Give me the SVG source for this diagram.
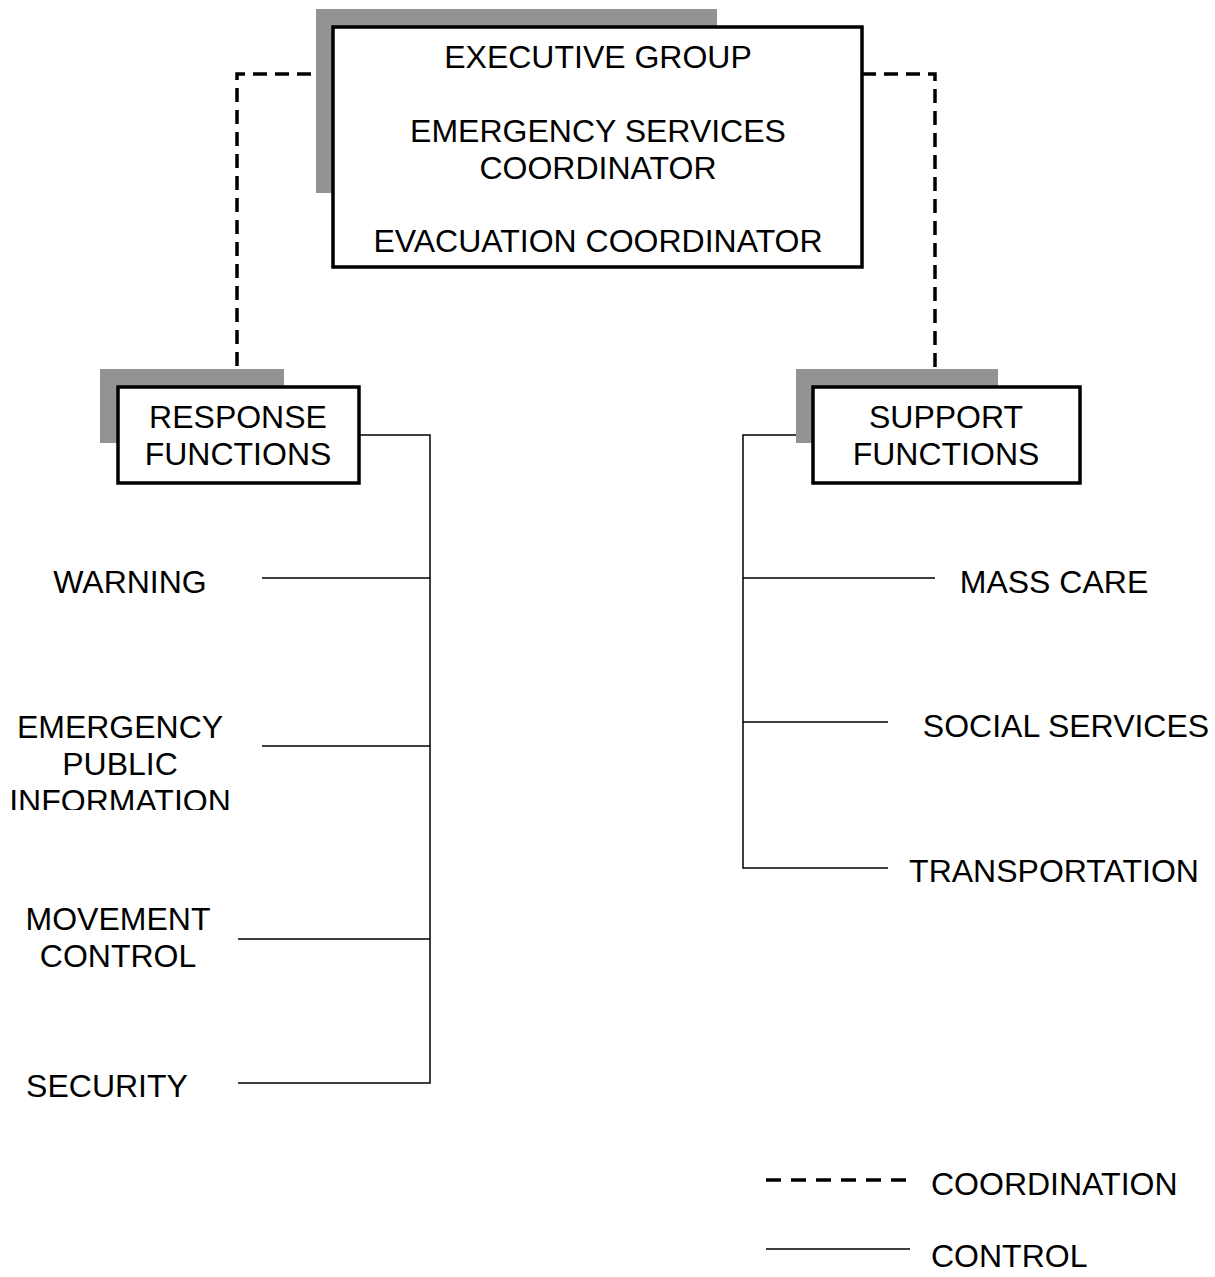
<svg xmlns="http://www.w3.org/2000/svg" width="1215" height="1277" viewBox="0 0 1215 1277">
<style>
text{font-family:"Liberation Sans",Arial,sans-serif;font-size:32px;fill:#000}
.c{text-anchor:middle}
.box{fill:#fff;stroke:#000;stroke-width:3.5}
.sh{fill:#939393}
.ctl{fill:none;stroke:#000;stroke-width:1.5}
.crd{fill:none;stroke:#000;stroke-width:3.5;stroke-dasharray:14 8}
.lcrd{fill:none;stroke:#000;stroke-width:3.5;stroke-dasharray:15 10}
</style>
<defs>
<clipPath id="clipInfo"><rect x="0" y="690" width="300" height="120"/></clipPath>
<clipPath id="clipSec"><rect x="0" y="1060" width="300" height="39"/></clipPath>
</defs>
<rect width="1215" height="1277" fill="#fff"/>
<g id="connectors">
<polyline class="crd" points="333,74 237,74 237,386"/>
<polyline class="crd" points="862,74 935,74 935,386"/>
<polyline class="ctl" points="359,435 430,435 430,1083 238,1083"/>
<line class="ctl" x1="262" y1="578" x2="430" y2="578"/>
<line class="ctl" x1="262" y1="746" x2="430" y2="746"/>
<line class="ctl" x1="238" y1="939" x2="430" y2="939"/>
<polyline class="ctl" points="813,435 743,435 743,868 888,868"/>
<line class="ctl" x1="743" y1="578" x2="935" y2="578"/>
<line class="ctl" x1="743" y1="722" x2="888" y2="722"/>
</g>
<g id="executive">
<rect class="sh" x="316" y="9" width="401" height="184"/>
<rect class="box" x="333" y="27" width="529" height="240"/>
<text class="c" x="598" y="68">EXECUTIVE GROUP</text>
<text class="c" x="598" y="142">EMERGENCY SERVICES</text>
<text class="c" x="598" y="179">COORDINATOR</text>
<text class="c" x="598" y="252">EVACUATION COORDINATOR</text>
</g>
<g id="response">
<rect class="sh" x="100" y="369" width="184" height="74"/>
<rect class="box" x="118" y="387" width="241" height="96"/>
<text class="c" x="238" y="428">RESPONSE</text>
<text class="c" x="238" y="465">FUNCTIONS</text>
</g>
<g id="support">
<rect class="sh" x="796" y="369" width="202" height="74"/>
<rect class="box" x="813" y="387" width="267" height="96"/>
<text class="c" x="946" y="428">SUPPORT</text>
<text class="c" x="946" y="465">FUNCTIONS</text>
</g>
<g id="warning"><text class="c" x="130" y="593">WARNING</text></g>
<g id="epi" clip-path="url(#clipInfo)">
<text class="c" x="120" y="738">EMERGENCY</text>
<text class="c" x="120" y="775">PUBLIC</text>
<text class="c" x="120" y="812">INFORMATION</text>
</g>
<g id="movement">
<text class="c" x="118" y="930">MOVEMENT</text>
<text class="c" x="118" y="967">CONTROL</text>
</g>
<g id="security" clip-path="url(#clipSec)"><text class="c" x="107" y="1097">SECURITY</text></g>
<g id="masscare"><text class="c" x="1054" y="593">MASS CARE</text></g>
<g id="social"><text class="c" x="1066" y="737">SOCIAL SERVICES</text></g>
<g id="transport"><text class="c" x="1054" y="882">TRANSPORTATION</text></g>
<g id="legend">
<line class="lcrd" x1="766" y1="1180" x2="910" y2="1180"/>
<text x="931" y="1195">COORDINATION</text>
<line class="ctl" x1="766" y1="1249" x2="910" y2="1249"/>
<text x="931" y="1267">CONTROL</text>
</g>
</svg>
